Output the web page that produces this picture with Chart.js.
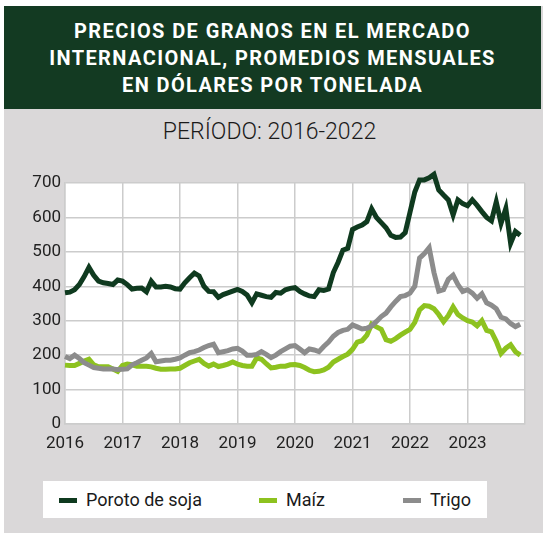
<!DOCTYPE html>
<html>
<head>
<meta charset="utf-8">
<script src="https://cdn.jsdelivr.net/npm/chart.js@4.4.0/dist/chart.umd.min.js"></script>
<style>
  html, body { margin: 0; padding: 0; background: #ffffff; }
  body { width: 543px; height: 534px; position: relative; overflow: hidden; font-family: Roboto, "Open Sans", sans-serif; }
  #card { position: absolute; left: 4px; top: 6px; width: 539px; height: 527px; background: #dad8d9; }
  #header { position: absolute; left: 0; top: 0; width: 537px; height: 103px; background: #133a22; color: #fff;
    font-weight: 700; font-size: 20px; letter-spacing: 1.4px; line-height: 27px; text-align: center; padding-top: 12px; box-sizing: border-box; }
  #subtitle { position: absolute; left: 0; top: 112px; width: 531px; text-align: center; font-size: 23px; font-weight: 300;
    color: #1a1a1a; }
  #wrap { position: absolute; left: 0; top: 150px; width: 543px; height: 310px; }
  #legend { position: absolute; left: 43px; top: 481px; width: 444px; height: 37px; background: #fff; }
  .item { position: absolute; top: 0; height: 37px; line-height: 37px; font-size: 18px; color: #1a1a1a; }
  .item i { display: inline-block; width: 18px; height: 5px; vertical-align: middle; margin-right: 9px; position: relative; top: -1px; }
</style>
</head>
<body>
<div id="card">
  <div id="header">PRECIOS DE GRANOS EN EL MERCADO<br>INTERNACIONAL, PROMEDIOS MENSUALES<br>EN DÓLARES POR TONELADA</div>
  <div id="subtitle">PERÍODO: 2016-2022</div>
</div>
<div id="wrap"><canvas id="chart"></canvas></div>
<div id="legend"></div>
<script>
// tick labels for the x axis (one per year, every 12 months)
const years = ['2016', '2017', '2018', '2019', '2020', '2021', '2022', '2023'];

// monthly averages, USD per tonne, Jan 2016 .. Dec 2023
const soja = [
  381, 383, 390, 405, 428, 455, 432, 415, 410, 408, 405, 418,
  415, 405, 392, 394, 395, 384, 415, 398, 398, 400, 398, 393,
  392, 410, 425, 438, 430, 400, 385, 384, 368, 376, 381, 386,
  391, 385, 375, 352, 378, 374, 370, 368, 382, 380, 390, 394,
  396, 385, 378, 372, 370, 390, 388, 392, 440, 470, 505, 510,
  565, 572, 578, 588, 625, 600, 585, 570, 548, 542, 543, 556,
  615, 674, 709, 709, 715, 725, 680, 665, 651, 607, 651, 640,
  634, 651, 635, 617, 600, 590, 645, 583, 626, 525, 559, 548
];
const maiz = [
  171, 170, 170, 176, 183, 188, 172, 166, 166, 166, 160, 153,
  170, 174, 172, 168, 168, 168, 166, 162, 159, 159, 160, 160,
  162, 170, 178, 183, 188, 176, 168, 174, 167, 170, 174, 180,
  174, 170, 168, 168, 192, 188, 175, 163, 165, 168, 168, 172,
  173, 170, 164, 156, 152, 153, 157, 165, 180, 188, 196, 203,
  217, 238, 242, 258, 290, 282, 275, 245, 240, 248, 258, 267,
  275, 295, 331, 344, 342, 335, 318, 297, 315, 340, 318, 308,
  300, 296, 285, 300, 272, 268, 240, 205, 220, 230, 210, 200
];
const trigo = [
  196, 190, 200, 190, 178, 171, 164, 162, 160, 160, 160, 158,
  159, 160, 172, 178, 185, 192, 205, 181, 183, 185, 185, 188,
  192, 200, 207, 210, 215, 222, 228, 232, 207, 210, 213, 218,
  220, 212, 200, 200, 202, 210, 202, 193, 200, 210, 218, 226,
  228, 218, 207, 218, 215, 210, 225, 238, 255, 266, 272, 275,
  288, 282, 276, 278, 285, 298, 312, 322, 340, 356, 370, 373,
  380, 400, 482, 495, 512, 440, 386, 390, 420, 432, 405, 385,
  390, 380, 365, 378, 352, 345, 335, 310, 305, 292, 283, 290
];

const series = [
  { label: 'Poroto de soja', values: soja, color: '#0f3a1f' },
  { label: 'Maíz', values: maiz, color: '#8dc21f' },
  { label: 'Trigo', values: trigo, color: '#8c8c8c' }
];

// white plot background
const plotBg = {
  id: 'plotBg',
  beforeDraw(chart) {
    const a = chart.chartArea, ctx = chart.ctx;
    ctx.save();
    ctx.fillStyle = '#ffffff';
    ctx.fillRect(a.left, a.top, a.right - a.left, a.bottom - a.top);
    ctx.restore();
  }
};

const tickFont = { family: 'Roboto', size: 17 };

new Chart(document.getElementById('chart'), {
  type: 'line',
  data: {
    datasets: series.slice().reverse().map(s => ({
      label: s.label,
      data: s.values.map((v, i) => ({ x: i, y: v })),
      borderColor: s.color,
      backgroundColor: s.color,
      borderWidth: 5,
      borderJoinStyle: 'miter',
      pointRadius: 0,
      tension: 0,
      clip: false
    }))
  },
  options: {
    responsive: true,
    maintainAspectRatio: false,
    animation: false,
    layout: { padding: { top: 33, right: 18, left: 0, bottom: 0 } },
    plugins: { legend: { display: false }, tooltip: { enabled: false } },
    scales: {
      x: {
        type: 'linear', min: 0, max: 96,
        afterFit: (s) => { s.height = 36; },
        grid: { color: '#cccccc', lineWidth: 1.5, drawTicks: false },
        border: { color: '#cccccc', width: 1.5 },
        ticks: {
          stepSize: 12, padding: 10, color: '#222', font: tickFont, maxRotation: 0,
          callback: (v) => years[v / 12] || ''
        }
      },
      y: {
        min: 0, max: 700,
        afterFit: (s) => { s.width = 65; },
        grid: { color: '#cccccc', lineWidth: 1.5, drawTicks: false },
        border: { color: '#cccccc', width: 1.5 },
        ticks: { stepSize: 100, padding: 4, color: '#222', font: tickFont }
      }
    }
  },
  plugins: [plotBg]
});

// legend row
const legend = document.getElementById('legend');
const legendX = [16, 216, 360];
series.forEach((s, k) => {
  const d = document.createElement('div');
  d.className = 'item';
  d.style.left = legendX[k] + 'px';
  d.innerHTML = '<i style="background:' + s.color + '"></i>' + s.label;
  legend.appendChild(d);
});
</script>
</body>
</html>
